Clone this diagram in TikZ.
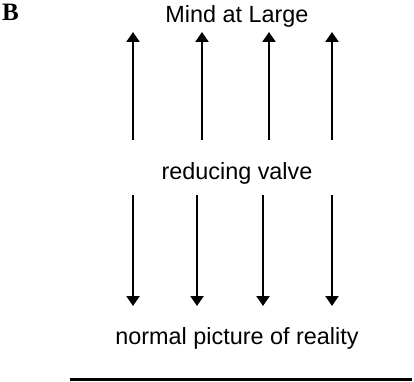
\documentclass[tikz,border=0pt]{standalone}
\usepackage{fontspec}
\setmainfont{Liberation Serif}
\setsansfont{Liberation Sans}
\usetikzlibrary{arrows.meta}

\begin{document}
\begin{tikzpicture}[x=1pt,y=1pt,>={Triangle[length=10pt,width=13pt]},
  lbl/.style={font=\sffamily\fontsize{23.4}{28}\selectfont,anchor=base,inner sep=0pt},
  flow/.style={->,line width=2.3pt}]
 \useasboundingbox (0,0) rectangle (414,381);
 \node[font=\bfseries\fontsize{25}{30}\selectfont,anchor=base west,inner sep=0pt] (panel) at (2,360) {B};
 \node[lbl] (mind) at (237,358) {Mind at Large};
 \node[lbl] (valve) at (237,202) {reducing valve};
 \node[lbl] (normal) at (237,37) {normal picture of reality};
 % upward arrows, valve to Mind at Large
 \foreach \i/\x in {1/133,2/202,3/269,4/332} {
   \coordinate (up\i) at (\x,241);
   \coordinate (upend\i) at (\x,349);
   \draw[flow] (up\i) -- (upend\i);
 }
 % downward arrows, valve to normal picture
 \foreach \i/\x in {1/133,2/197,3/263,4/332} {
   \coordinate (down\i) at (\x,186);
   \coordinate (downend\i) at (\x,75);
   \draw[flow] (down\i) -- (downend\i);
 }
 \coordinate (rule0) at (70,1.5);
 \coordinate (rule1) at (412,1.5);
 \draw[line width=3pt] (rule0) -- (rule1);
\end{tikzpicture}
\end{document}
